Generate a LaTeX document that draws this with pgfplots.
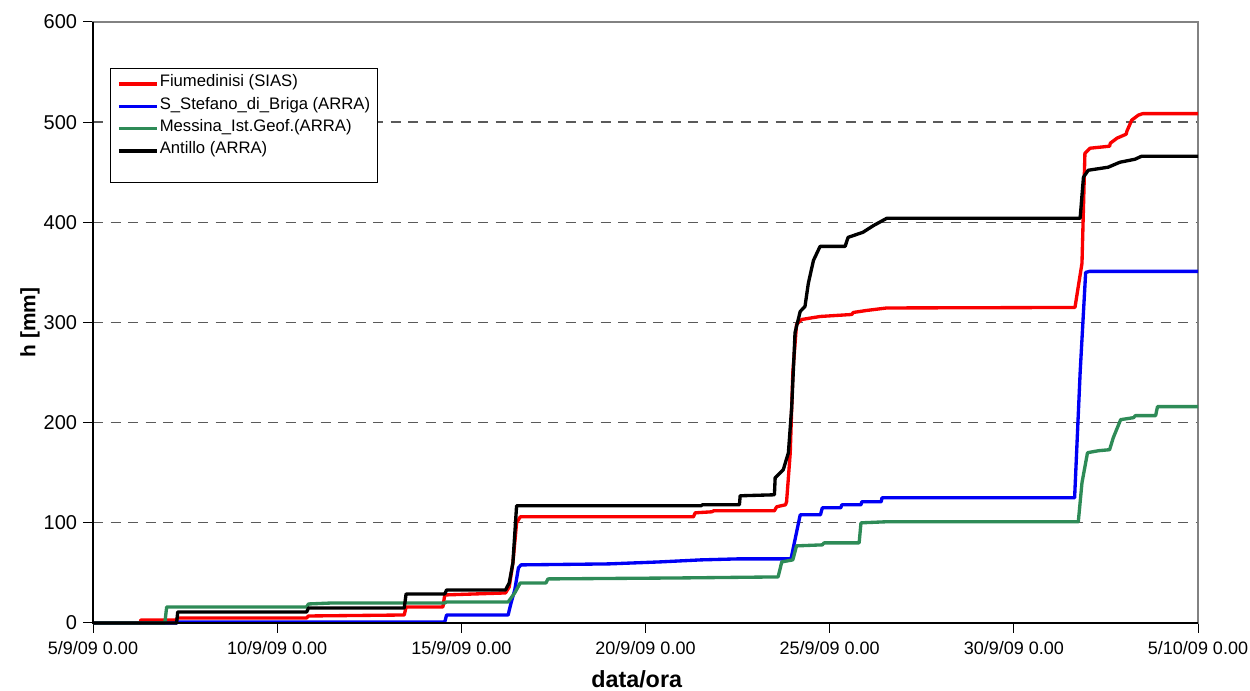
\documentclass[border=0pt]{standalone}
\usepackage{fontspec}
\setmainfont{Liberation Sans}
\usepackage{pgfplots}
\pgfplotsset{compat=1.18}
\definecolor{cred}{RGB}{250,0,0}
\definecolor{cblue}{RGB}{0,0,245}
\definecolor{cgreen}{RGB}{46,139,87}
\definecolor{gridgray}{RGB}{90,90,90}
\definecolor{framegray}{RGB}{130,130,130}

\begin{document}
\begin{tikzpicture}
\useasboundingbox (0pt,0pt) rectangle (750pt,414.6pt);
\begin{axis}[
  at={(55.8pt,40.8pt)}, anchor=south west,
  scale only axis, width=663pt, height=360.6pt,
  xmin=0, xmax=30, ymin=0, ymax=600,
  clip=false,
  xtick={0,5,10,15,20,25,30},
  xticklabels={5/9/09 0.00,10/9/09 0.00,15/9/09 0.00,20/9/09 0.00,25/9/09 0.00,30/9/09 0.00,5/10/09 0.00},
  ytick={0,100,200,300,400,500,600},
  xtick pos=left, ytick pos=left,
  tick align=outside, major tick length=6pt,
  tick style={black, line width=0.6pt},
  /pgf/number format/assume math mode=true,
  xticklabel style={font=\fontsize{10.8}{13}\selectfont, yshift=-1.5pt},
  yticklabel style={font=\fontsize{12}{14}\selectfont},
  ymajorgrids,
  grid style={gridgray, dash pattern=on 6pt off 4.5pt, line width=0.8pt},
  axis line style={framegray, line width=1pt},
  xlabel={data/ora},
  ylabel={h [mm]},
  xlabel style={font=\bfseries\fontsize{14}{16}\selectfont, at={(axis description cs:0.492,-0.094)}, anchor=center},
  ylabel style={font=\bfseries\fontsize{12.5}{14}\selectfont, at={(axis description cs:-0.057,0.5)}, anchor=center},
  legend style={at={(0.0154,0.9235)}, anchor=north west, draw=black, line width=0.6pt, fill=white,
    font=\fontsize{10}{12}\selectfont, inner xsep=4pt, inner ysep=2.6pt,
    nodes={inner sep=0.6pt, text height=7.8pt, text depth=4.4pt}, row sep=0pt},
  legend cell align=left,
  legend image code/.code={\draw[#1] (0pt,0pt) -- (23pt,0pt);},
  every axis plot/.append style={line width=2pt, line join=round},
]
% Fiumedinisi (SIAS)
\addplot[cred] coordinates {
(0,0) (1.28,0) (1.3,3) (2.25,3) (2.3,5) (5.8,5) (5.85,7) (8.45,8) (8.5,16) (9.5,16) (9.55,28)
(11.2,30) (11.3,36) (11.4,60) (11.5,100) (11.6,106) (16.3,106) (16.35,110) (16.8,111) (16.85,112)
(18.5,112) (18.56,116) (18.8,118) (18.83,121) (18.93,170) (19.0,250) (19.1,298) (19.24,303)
(19.74,306) (20.6,308) (20.64,310) (21.0,312) (21.55,314.5) (26.66,315) (26.75,336) (26.85,359)
(26.93,469) (27.07,474) (27.6,476) (27.62,479) (27.8,484) (28.05,488) (28.07,491) (28.2,502)
(28.38,507) (28.5,508.5) (30,508.5)};
\addlegendentry{Fiumedinisi (SIAS)}
% S_Stefano_di_Briga (ARRA)
\addplot[cblue] coordinates {
(0,0) (2.27,0) (2.3,1) (9.55,1) (9.6,8) (11.27,8) (11.35,20) (11.45,33) (11.55,55) (11.62,58)
(14,59) (15.4,61) (16.5,63) (17.5,64) (18.95,64) (19.2,108) (19.75,108) (19.8,115) (20.3,115)
(20.33,118) (20.85,118) (20.87,121) (21.4,121) (21.42,125) (26.65,125) (26.8,250) (26.95,350)
(27.05,351) (30,351)};
\addlegendentry{S\_Stefano\_di\_Briga (ARRA)}
% Messina_Ist.Geof.(ARRA)
\addplot[cgreen] coordinates {
(0,0) (1.95,0) (2.0,16) (5.8,16) (5.85,19) (6.5,20) (9.55,20) (9.6,21) (11.27,21) (11.45,30)
(11.6,40) (12.3,40) (12.35,44) (16,45) (18.6,46) (18.7,61) (19.0,63) (19.1,77) (19.8,78)
(19.85,80) (20.8,80) (20.85,100) (21.5,101) (26.75,101) (26.85,140) (27.0,170) (27.3,172)
(27.6,173) (27.7,185) (27.9,203) (28.25,205) (28.3,207) (28.85,207) (28.9,216) (30,216)};
\addlegendentry{Messina\_Ist.Geof.(ARRA)}
% Antillo (ARRA)
\addplot[black] coordinates {
(0,0) (2.27,0) (2.3,11) (5.8,11) (5.85,15) (8.45,15) (8.5,29) (9.55,29) (9.6,33) (11.2,33)
(11.3,40) (11.4,60) (11.5,117) (16.5,117) (16.55,118) (17.55,118) (17.57,127) (18.5,128)
(18.52,145) (18.74,153) (18.88,170) (18.97,216) (19.06,290) (19.2,311) (19.33,316) (19.42,339)
(19.56,362) (19.74,376) (20.42,376) (20.5,385) (20.9,390) (21.2,397) (21.35,400) (21.55,404)
(26.8,404) (26.89,445) (27.02,452) (27.56,455) (27.88,460) (28.29,463) (28.47,466) (30,466)};
\addlegendentry{Antillo (ARRA)}
\addlegendimage{empty legend}
\addlegendentry[text height=0pt, text depth=8.5pt]{}
\draw[black, line width=1pt] (rel axis cs:0,1) -- (rel axis cs:0,0) -- (rel axis cs:1,0);
\end{axis}
\end{tikzpicture}
\end{document}
